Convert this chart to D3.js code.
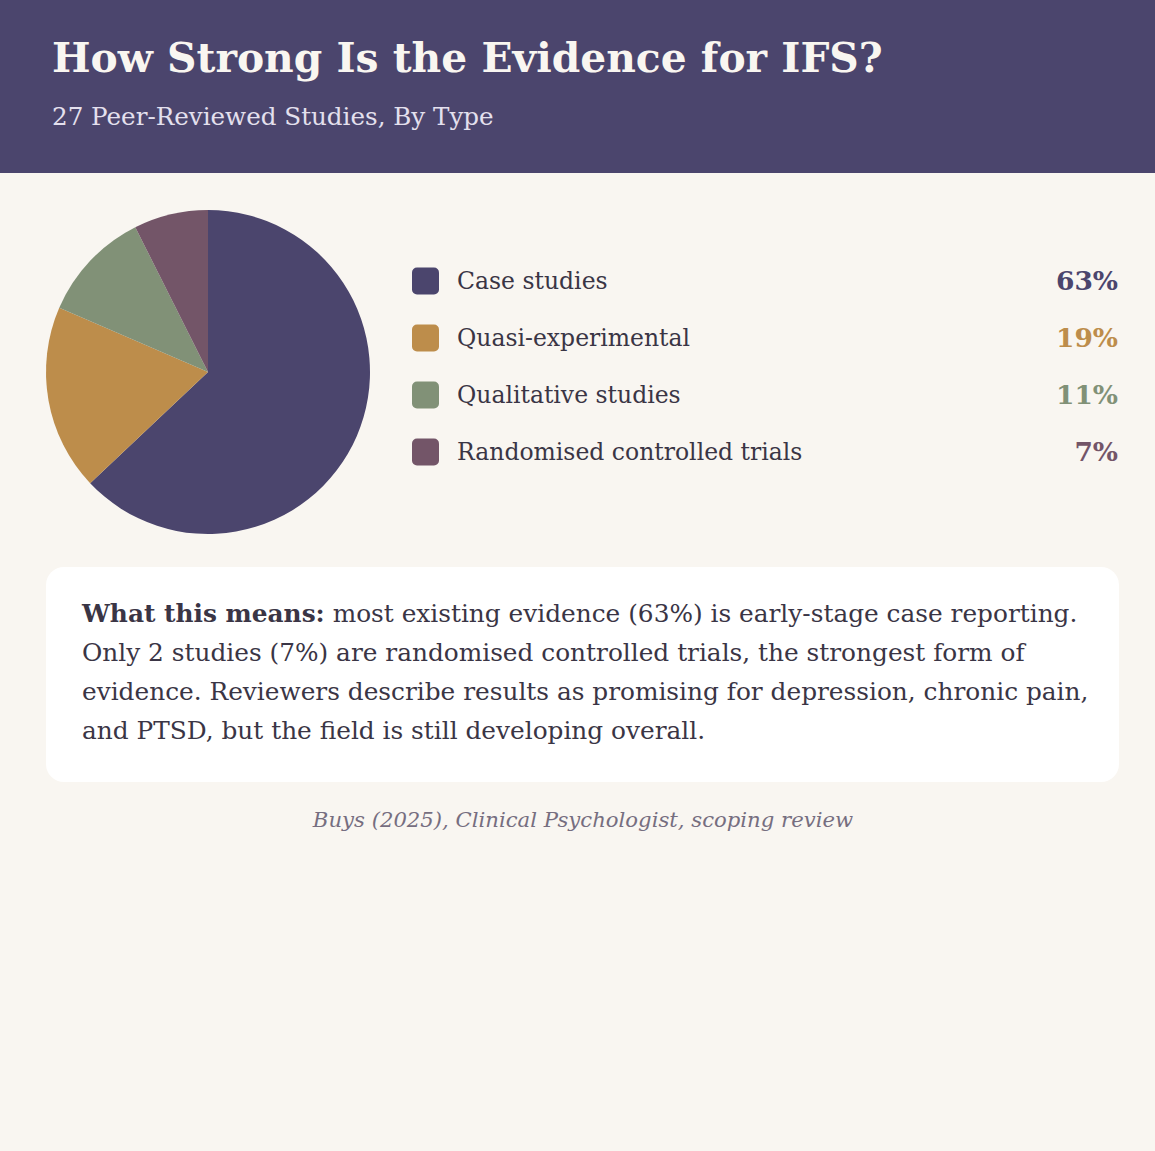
<!DOCTYPE html>
<html>
<head>
<meta charset="utf-8">
<script src="https://cdn.jsdelivr.net/npm/d3@7"></script>
<style>
  body { margin: 0; background: #f9f6f1; }
  svg { display: block; }
  text { font-family: Georgia, "DejaVu Serif", serif; }
</style>
</head>
<body>
<div id="chart"></div>
<script>
// study types and counts (27 studies)
var categories = ["Case studies", "Quasi-experimental", "Qualitative studies", "Randomised controlled trials"];
var counts = [17, 5, 3, 2];
var percentLabels = ["63%", "19%", "11%", "7%"];
var colors = ["#4b456d", "#bd8d4b", "#819177", "#735568"];

var titleText = "How Strong Is the Evidence for IFS?";
var subtitleText = "27 Peer-Reviewed Studies, By Type";
var noteLines = [
    ["What this means:", " most existing evidence (63%) is early-stage case reporting."],
    ["", "Only 2 studies (7%) are randomised controlled trials, the strongest form of"],
    ["", "evidence. Reviewers describe results as promising for depression, chronic pain,"],
    ["", "and PTSD, but the field is still developing overall."]
];
var sourceText = "Buys (2025), Clinical Psychologist, scoping review";

function main() {
    var width = 1155, height = 1151;

    var svg = d3.select("#chart")
        .append("svg")
        .attr("width", width)
        .attr("height", height);

    svg.append("rect")
        .attr("width", width)
        .attr("height", height)
        .attr("fill", "#f9f6f1");

    // header band
    svg.append("rect")
        .attr("width", width)
        .attr("height", 173)
        .attr("fill", "#4b456d");

    svg.append("text")
        .attr("x", 52)
        .attr("y", 72)
        .attr("fill", "#f9f6f1")
        .attr("font-size", "40.8px")
        .attr("font-weight", "bold")
        .text(titleText);

    svg.append("text")
        .attr("x", 52)
        .attr("y", 125)
        .attr("fill", "#e4e0ee")
        .attr("font-size", "24.6px")
        .text(subtitleText);

    // pie
    var color = d3.scaleOrdinal().domain(categories).range(colors);
    var pie = d3.pie().sort(null).value(function (d, i) { return counts[i]; });
    var arc = d3.arc().innerRadius(0).outerRadius(162);

    svg.append("g")
        .attr("transform", "translate(208,372)")
        .selectAll("path")
        .data(pie(categories))
        .join("path")
        .attr("d", arc)
        .attr("fill", function (d) { return color(d.data); });

    // legend
    var y = d3.scalePoint().domain(categories).range([281, 452]);
    var legend = svg.append("g")
        .selectAll("g")
        .data(categories)
        .join("g")
        .attr("transform", function (d) { return "translate(0," + y(d) + ")"; });

    legend.append("rect")
        .attr("x", 412)
        .attr("y", -13.5)
        .attr("width", 27)
        .attr("height", 27)
        .attr("rx", 5)
        .attr("fill", function (d) { return color(d); });

    legend.append("text")
        .attr("x", 457)
        .attr("dy", "0.35em")
        .attr("fill", "#3a3545")
        .attr("font-size", "23.5px")
        .text(function (d) { return d; });

    legend.append("text")
        .attr("x", 1118)
        .attr("dy", "0.35em")
        .attr("text-anchor", "end")
        .attr("fill", function (d) { return color(d); })
        .attr("font-size", "26.5px")
        .attr("font-weight", "bold")
        .text(function (d, i) { return percentLabels[i]; });

    // note box
    svg.append("rect")
        .attr("x", 46)
        .attr("y", 567)
        .attr("width", 1073)
        .attr("height", 215)
        .attr("rx", 18)
        .attr("fill", "#ffffff");

    var note = svg.append("text")
        .attr("fill", "#3a3545")
        .attr("font-size", "24.8px");

    noteLines.forEach(function (line, i) {
        var t = note.append("tspan")
            .attr("x", 82)
            .attr("y", 622 + i * 39);
        if (line[0]) {
            t.attr("font-weight", "bold").text(line[0]);
            note.append("tspan").text(line[1]);
        } else {
            t.text(line[1]);
        }
    });

    svg.append("text")
        .attr("x", 583)
        .attr("y", 827)
        .attr("text-anchor", "middle")
        .attr("fill", "#766e80")
        .attr("font-size", "21.2px")
        .attr("font-style", "italic")
        .text(sourceText);
}

main()
</script>
</body>
</html>
